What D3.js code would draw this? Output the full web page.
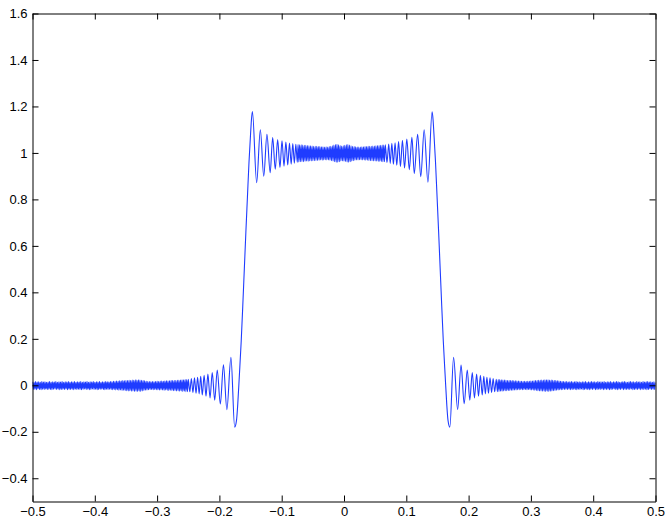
<!DOCTYPE html>
<html>
<head>
<meta charset="utf-8">
<script src="https://cdn.jsdelivr.net/npm/d3@7"></script>
<style>
  html, body { margin: 0; padding: 0; background: #fff; }
  svg { display: block; }
  .tick text { font-family: "Liberation Sans", Arial, Helvetica, sans-serif; font-size: 13px; fill: #000; }
</style>
</head>
<body>
<svg id="chart" width="667" height="520"></svg>
<script>
// ---------------- data ----------------
const xDomain = [-0.5, 0.5];
const yDomain = [-0.5, 1.6];
const xTickValues = [-0.5, -0.4, -0.3, -0.2, -0.1, 0, 0.1, 0.2, 0.3, 0.4, 0.5];
const xTickLabels = ["\u22120.5", "\u22120.4", "\u22120.3", "\u22120.2", "\u22120.1", "0", "0.1", "0.2", "0.3", "0.4", "0.5"];
const yTickValues = [-0.4, -0.2, 0, 0.2, 0.4, 0.6, 0.8, 1, 1.2, 1.4, 1.6];
const yTickLabels = ["\u22120.4", "\u22120.2", "0", "0.2", "0.4", "0.6", "0.8", "1", "1.2", "1.4", "1.6"];

// dense left tail: samples from x = -0.5, every 0.00125
const leftTailStart = -0.5, leftTailStep = 0.00125;
const leftTailY = [
  0.015,-0.018,0.013,-0.017,0.016,-0.019,0.014,-0.016,0.015,-0.018,0.013,-0.019,0.016,-0.017,0.014,-0.018,0.015,-0.016,0.013,-0.018,
  0.014,-0.017,0.016,-0.018,0.013,-0.019,0.015,-0.017,0.014,-0.016,0.016,-0.018,0.013,-0.017,0.015,-0.019,0.014,-0.018,0.016,-0.017,
  0.013,-0.018,0.015,-0.016,0.014,-0.019,0.016,-0.017,0.013,-0.018,0.015,-0.017,0.014,-0.019,0.016,-0.016,0.013,-0.018,0.015,-0.017,
  0.014,-0.018,0.016,-0.019,0.013,-0.017,0.015,-0.016,0.014,-0.018,0.016,-0.017,0.013,-0.019,0.015,-0.018,0.014,-0.016,0.016,-0.018,
  0.013,-0.017,0.015,-0.019,0.014,-0.018,0.016,-0.017,0.013,-0.016,0.015,-0.018,0.014,-0.019,0.016,-0.017,0.015,-0.018,0.014,-0.017,
  0.016,-0.018,0.015,-0.019,0.017,-0.018,0.016,-0.020,0.018,-0.019,0.017,-0.021,0.019,-0.020,0.018,-0.022,0.020,-0.021,0.019,-0.022,
  0.021,-0.023,0.020,-0.024,0.022,-0.023,0.021,-0.025,0.023,-0.024,0.022,-0.026,0.024,-0.025,0.023,-0.026,0.024,-0.025,0.023,-0.026,
  0.022,-0.024,0.020,-0.022,0.019,-0.021,0.017,-0.020,0.016,-0.019,0.016,-0.018,0.015,-0.018,0.016,-0.019,0.015,-0.018,0.016,-0.019,
  0.017,-0.019,0.016,-0.020,0.017,-0.019,0.018,-0.020,0.017,-0.021,0.018,-0.020,0.019,-0.021,0.018,-0.022,0.019,-0.021,0.020,-0.022,
  0.020,-0.023,0.021,-0.022,0.021,-0.024,0.022,-0.023,0.022,-0.025,0.023,-0.024,0.024,-0.026,0.024,-0.025,0.025,-0.027,0.025,-0.027
];

// left ringing, rising edge and top-left ringing: [x, y] turning points
const leftEdge = [
  [-0.2500,0.026],[-0.2475,-0.028],[-0.2450,0.029],[-0.2425,-0.031],[-0.2400,0.032],
  [-0.2375,-0.034],[-0.2350,0.035],[-0.2325,-0.037],[-0.2300,0.039],[-0.2275,-0.042],
  [-0.2245,0.043],[-0.2215,-0.047],[-0.2185,0.048],[-0.2150,-0.054],[-0.2115,0.055],
  [-0.2075,-0.064],[-0.2035,0.066],[-0.1985,-0.080],[-0.1935,0.088],[-0.1880,-0.105],
  [-0.1815,0.120],[-0.1755,-0.180],
  [-0.1725,-0.150],[-0.1705,-0.080],[-0.1680,0.040],[-0.1650,0.190],[-0.1625,0.340],
  [-0.1600,0.500],[-0.1575,0.660],[-0.1550,0.810],[-0.1525,0.960],[-0.1500,1.080],
  [-0.1485,1.145],[-0.1470,1.178],
  [-0.1402,0.872],[-0.1343,1.100],[-0.1288,0.900],[-0.1237,1.080],[-0.1185,0.915],
  [-0.1145,1.066],[-0.1103,0.930],[-0.1065,1.058],[-0.1028,0.937],[-0.0995,1.052],
  [-0.0963,0.943],[-0.0933,1.047],[-0.0903,0.948],[-0.0875,1.043],[-0.0848,0.952],
  [-0.0822,1.040],[-0.0797,0.956],[-0.0773,1.037],[-0.0750,0.960]
];

// dense top band: samples from x = -0.07375, every 0.00125
const midStart = -0.07375, midStep = 0.00125;
const midY = [
  1.036,0.961,1.035,0.962,1.035,0.963,1.034,0.962,1.033,0.964,1.033,0.965,1.032,0.964,1.031,0.966,1.031,0.966,1.030,0.967,
  1.029,0.967,1.029,0.968,1.028,0.968,1.027,0.969,1.027,0.970,1.026,0.969,1.026,0.970,1.025,0.971,1.026,0.970,1.025,0.970,
  1.027,0.969,1.029,0.967,1.031,0.965,1.034,0.962,1.036,0.960,1.037,0.960,1.035,0.962,1.032,0.965,1.030,0.966,1.031,0.965,
  1.033,0.963,1.035,0.961,1.036,0.960,1.034,0.962,1.031,0.965,1.029,0.967,1.027,0.969,1.026,0.970,1.025,0.970,1.025,0.971,
  1.025,0.971,1.026,0.970,1.026,0.970,1.027,0.969,1.027,0.969,1.028,0.968,1.028,0.967,1.029,0.967,1.030,0.966,1.030,0.966,
  1.031,0.965,1.032,0.964,1.032,0.964,1.033,0.963,1.034,0.962,1.034,0.962,1.035
];

// top-right ringing, falling edge and right ringing: [x, y] turning points
const rightEdge = [
  [0.0690,0.959],[0.0718,1.038],[0.0742,0.955],[0.0768,1.041],[0.0793,0.951],
  [0.0820,1.044],[0.0847,0.947],[0.0876,1.049],[0.0906,0.941],[0.0938,1.054],
  [0.0972,0.935],[0.1008,1.060],[0.1048,0.928],[0.1090,1.067],[0.1128,0.912],
  [0.1182,1.080],[0.1232,0.898],[0.1287,1.100],[0.1347,0.874],[0.1414,1.177],
  [0.1429,1.145],[0.1444,1.080],[0.1469,0.960],[0.1494,0.810],[0.1519,0.660],
  [0.1544,0.500],[0.1569,0.340],[0.1594,0.190],[0.1624,0.040],[0.1649,-0.080],
  [0.1669,-0.150],[0.1699,-0.180],
  [0.1759,0.120],[0.1824,-0.104],[0.1879,0.087],[0.1929,-0.079],[0.1979,0.066],
  [0.2019,-0.064],[0.2059,0.055],[0.2094,-0.054],[0.2129,0.048],[0.2159,-0.047],
  [0.2189,0.043],[0.2219,-0.042],[0.2244,0.039],[0.2269,-0.037],[0.2294,0.035],
  [0.2319,-0.034],[0.2344,0.032],[0.2369,-0.031],[0.2394,0.029],[0.2419,-0.028],
  [0.2444,0.026]
];

// dense right tail: samples from x = 0.24625, every 0.00125
const rightTailStart = 0.24625, rightTailStep = 0.00125;
const rightTailY = [
  -0.027,0.025,-0.026,0.025,-0.025,0.024,-0.025,0.023,-0.024,0.023,-0.023,0.022,-0.023,0.021,-0.022,0.021,-0.022,0.020,-0.021,0.020,
  -0.021,0.019,-0.020,0.019,-0.020,0.018,-0.019,0.018,-0.019,0.017,-0.018,0.017,-0.019,0.016,-0.018,0.017,-0.018,0.016,-0.019,0.017,
  -0.018,0.017,-0.019,0.018,-0.020,0.018,-0.020,0.019,-0.021,0.020,-0.022,0.021,-0.023,0.022,-0.024,0.022,-0.024,0.023,-0.025,0.023,
  -0.025,0.024,-0.026,0.024,-0.025,0.024,-0.026,0.023,-0.025,0.023,-0.024,0.022,-0.023,0.021,-0.022,0.020,-0.021,0.019,-0.020,0.018,
  -0.019,0.017,-0.019,0.016,-0.018,0.016,-0.018,0.015,-0.017,0.016,-0.018,0.014,-0.017,0.015,-0.019,0.016,-0.018,0.014,-0.017,0.015,
  -0.018,0.016,-0.019,0.014,-0.017,0.015,-0.018,0.013,-0.016,0.015,-0.019,0.014,-0.018,0.016,-0.017,0.013,-0.018,0.015,-0.019,0.014,
  -0.017,0.016,-0.018,0.014,-0.016,0.015,-0.019,0.013,-0.018,0.016,-0.017,0.014,-0.018,0.015,-0.016,0.014,-0.019,0.016,-0.017,0.013,
  -0.018,0.015,-0.017,0.014,-0.019,0.016,-0.018,0.013,-0.017,0.015,-0.016,0.014,-0.018,0.016,-0.019,0.015,-0.017,0.013,-0.018,0.014,
  -0.016,0.015,-0.019,0.016,-0.017,0.014,-0.018,0.013,-0.017,0.015,-0.018,0.016,-0.016,0.014,-0.019,0.015,-0.018,0.013,-0.017,0.016,
  -0.018,0.014,-0.016,0.015,-0.019,0.013,-0.017,0.016,-0.018,0.014,-0.017,0.015,-0.019,0.016,-0.018,0.014,-0.016,0.015,-0.018,0.013,
  -0.017,0.015,-0.018,0.012
];

// ---------------- assemble series ----------------
const series = [].concat(
  leftTailY.map((v, i) => [leftTailStart + i * leftTailStep, v]),
  leftEdge,
  midY.map((v, i) => [midStart + i * midStep, v]),
  rightEdge,
  rightTailY.map((v, i) => [rightTailStart + i * rightTailStep, v])
);

// ---------------- drawing ----------------
const svg = d3.select("#chart");
const plotLeft = 32.5, plotRight = 655.5, plotTop = 13.5, plotBottom = 501.5;

const xScale = d3.scaleLinear().domain(xDomain).range([plotLeft, plotRight]);
const yScale = d3.scaleLinear().domain(yDomain).range([plotBottom, plotTop]);

svg.append("defs").append("clipPath").attr("id", "plotclip")
  .append("rect").attr("x", plotLeft).attr("y", plotTop)
  .attr("width", plotRight - plotLeft).attr("height", plotBottom - plotTop);

const lineGen = d3.line()
  .x(d => xScale(d[0]))
  .y(d => yScale(d[1]))
  .curve(d3.curveMonotoneX);

svg.append("path")
  .datum(series)
  .attr("clip-path", "url(#plotclip)")
  .attr("fill", "none")
  .attr("stroke", "#1f3cff")
  .attr("stroke-width", 1.1)
  .attr("stroke-linejoin", "round")
  .attr("d", lineGen);

const TICK = 6;
function styleAxis(g) {
  g.selectAll(".domain").attr("stroke", "#000").attr("stroke-width", 1);
  g.selectAll(".tick line").attr("stroke", "#000").attr("stroke-width", 1);
}

// bottom axis with labels
svg.append("g")
  .attr("transform", `translate(0,${plotBottom})`)
  .call(d3.axisBottom(xScale).tickValues(xTickValues)
    .tickFormat((d, i) => xTickLabels[i])
    .tickSizeInner(-TICK).tickSizeOuter(0).tickPadding(5))
  .call(styleAxis)
  .call(g => g.attr("font-family", null).attr("font-size", null));

// top axis, ticks only
svg.append("g")
  .attr("transform", `translate(0,${plotTop})`)
  .call(d3.axisTop(xScale).tickValues(xTickValues).tickFormat("")
    .tickSizeInner(-TICK).tickSizeOuter(0))
  .call(styleAxis);

// left axis with labels
svg.append("g")
  .attr("transform", `translate(${plotLeft},0)`)
  .call(d3.axisLeft(yScale).tickValues(yTickValues)
    .tickFormat((d, i) => yTickLabels[i])
    .tickSizeInner(-TICK).tickSizeOuter(0).tickPadding(5))
  .call(styleAxis)
  .call(g => g.attr("font-family", null).attr("font-size", null));

// right axis, ticks only
svg.append("g")
  .attr("transform", `translate(${plotRight},0)`)
  .call(d3.axisRight(yScale).tickValues(yTickValues).tickFormat("")
    .tickSizeInner(-TICK).tickSizeOuter(0))
  .call(styleAxis);
</script>
</body>
</html>
